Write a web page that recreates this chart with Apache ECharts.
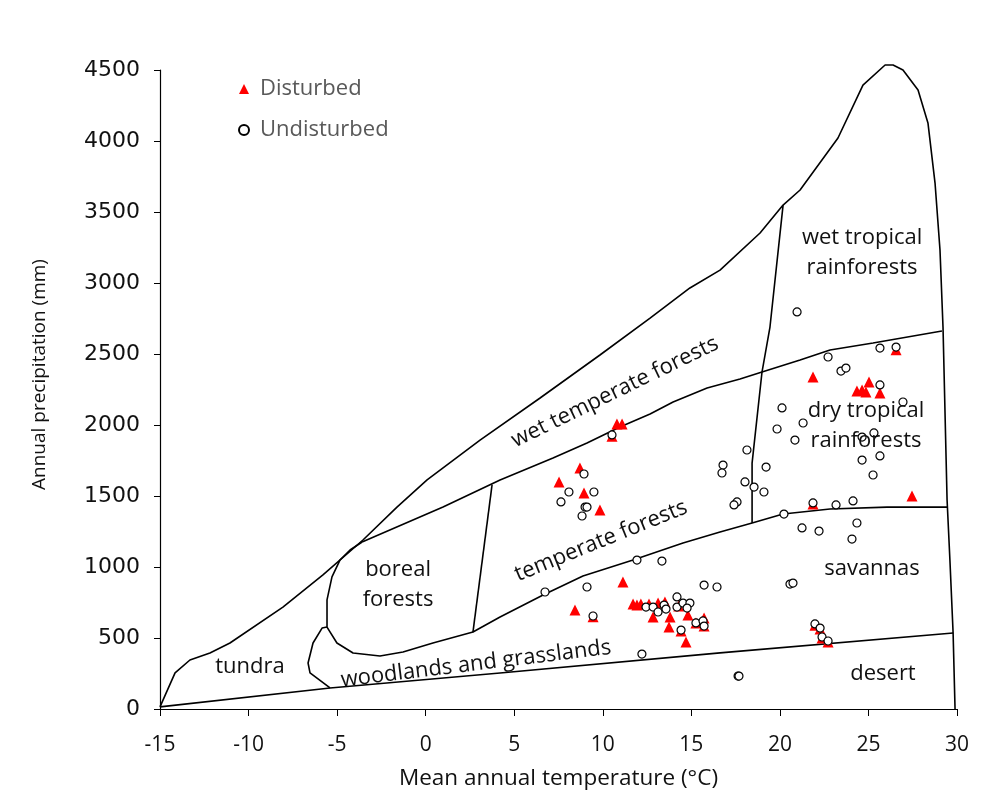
<!DOCTYPE html>
<html>
<head>
<meta charset="utf-8">
<title>Whittaker biomes – disturbed and undisturbed sites</title>
<script src="https://cdn.jsdelivr.net/npm/echarts@6/dist/echarts.min.js"></script>
<style>
  html, body { margin: 0; padding: 0; background: #ffffff; }
  #chart { width: 1004px; height: 810px; }
</style>
</head>
<body>
<div id="chart"></div>
<script>
// Axis ticks
const temperatureTicks = [-15, -10, -5, 0, 5, 10, 15, 20, 25, 30];
const precipitationTicks = [0, 500, 1000, 1500, 2000, 2500, 3000, 3500, 4000, 4500];

// Site climates: [mean annual temperature (°C), annual precipitation (mm)]
const disturbed = [
  [10.80, 2007], [11.09, 2007], [10.52, 1920],
  [8.71, 1697], [7.53, 1599], [8.94, 1521], [9.84, 1401],
  [11.14, 894], [8.43, 697], [9.45, 650],
  [11.71, 739], [11.93, 732], [12.15, 739], [12.61, 739], [12.84, 648],
  [13.12, 746], [13.51, 753], [13.80, 648], [13.74, 577], [14.29, 725],
  [14.81, 662], [15.26, 606], [15.72, 641], [15.72, 584], [14.70, 472], [14.42, 550],
  [21.87, 2338], [24.35, 2239], [24.64, 2246], [24.86, 2232], [25.03, 2303],
  [25.65, 2225], [26.56, 2530], [27.46, 1500], [21.87, 1444],
  [21.98, 590], [22.27, 563], [22.38, 500], [22.72, 472]
];

const undisturbed = [
  [10.52, 1930], [8.94, 1655], [8.09, 1528], [9.50, 1528], [7.64, 1458],
  [9.00, 1422], [9.11, 1422], [8.83, 1359],
  [16.79, 1718], [16.73, 1662], [17.58, 1458], [17.41, 1437],
  [6.74, 824], [9.11, 859], [11.93, 1049], [13.34, 1042], [9.45, 655],
  [15.72, 873], [16.45, 859], [12.21, 387], [14.42, 556],
  [12.44, 718], [12.84, 718], [13.12, 683], [13.46, 732], [13.57, 704],
  [14.19, 789], [14.19, 718], [14.53, 746], [14.92, 746], [14.76, 711],
  [15.26, 606], [15.66, 620], [15.72, 584],
  [20.97, 2796], [25.65, 2542], [26.56, 2549], [22.72, 2479], [23.45, 2380],
  [23.73, 2401], [25.65, 2282], [26.95, 2162], [20.12, 2120], [21.31, 2014],
  [19.84, 1972], [20.85, 1894], [24.64, 1915], [25.31, 1944], [25.65, 1782],
  [24.64, 1753], [25.26, 1648], [18.14, 1824], [19.22, 1704], [18.03, 1599],
  [18.54, 1563], [19.10, 1528], [21.87, 1451], [23.17, 1437], [24.13, 1465],
  [20.23, 1373], [21.25, 1275], [22.21, 1253], [24.35, 1310], [24.07, 1197],
  [20.57, 880], [20.74, 887], [21.98, 599], [22.27, 570], [22.38, 507],
  [22.72, 479], [17.64, 232], [17.69, 232]
];

// Biome boundaries (Whittaker diagram), same units as the sites
const outerBoundary = [
  [-15, 15], [-14.15, 254], [-13.31, 345], [-12.18, 394], [-11.05, 465],
  [-8.06, 718], [-5.80, 944], [-3.54, 1190], [-1.62, 1422], [0.08, 1613],
  [3.07, 1894], [6.46, 2190], [9.84, 2493], [12.67, 2753], [14.92, 2965],
  [16.62, 3091], [18.88, 3352], [20.18, 3549], [21.14, 3655], [23.28, 4021],
  [24.69, 4394], [25.94, 4535], [26.39, 4535], [26.95, 4500], [27.80, 4359],
  [28.36, 4127], [28.76, 3704], [29.04, 3232], [29.21, 2690], [29.44, 1472],
  [29.60, 1049], [29.78, 535], [29.89, 0]
];
const desertEdge = [
  [-15, 15], [-5.40, 148], [4.20, 254], [16.62, 395], [29.78, 535]
];
const tundraEdge = [
  [-5.40, 148], [-6.53, 254], [-6.64, 324], [-6.36, 465], [-5.85, 570], [-5.57, 577]
];
const borealAndTemperateLower = [
  [-3.59, 1176], [-4.27, 1120], [-4.84, 1049], [-5.29, 930], [-5.57, 768],
  [-5.57, 577], [-5.01, 465], [-4.10, 394], [-2.58, 373], [-1.28, 401],
  [0.41, 465], [2.67, 542], [4.20, 648], [6.63, 803], [8.88, 937],
  [11.71, 1049], [14.53, 1169], [16.62, 1246], [18.43, 1310], [20.18, 1373],
  [22.83, 1408], [26.05, 1422], [29.44, 1422]
];
const temperateUpper = [
  [-3.59, 1176], [0.98, 1422], [4.20, 1613], [7.19, 1768], [9.11, 1873],
  [10.97, 1986], [12.67, 2077], [13.97, 2162], [15.89, 2261], [17.75, 2324],
  [18.99, 2373], [21.14, 2458], [22.83, 2528], [25.26, 2577], [29.15, 2662]
];
const borealEast = [[3.75, 1580], [2.67, 542]];
const tropicalWest = [
  [20.18, 3549], [19.44, 2690], [18.99, 2373], [18.43, 1732], [18.43, 1310]
];

// Biome names, anchored in data space
const biomeNames = [
  { name: 'tundra', t: -9.92, p: 296, angle: 0 },
  { name: 'woodlands and grasslands', t: 2.84, p: 317, angle: 7 },
  { name: 'boreal\nforests', t: -1.56, p: 873, angle: 0 },
  { name: 'temperate forests', t: 9.90, p: 1183, angle: 22 },
  { name: 'wet temperate forests', t: 10.69, p: 2232, angle: 26 },
  { name: 'wet tropical\nrainforests', t: 24.64, p: 3211, angle: 0 },
  { name: 'dry tropical\nrainforests', t: 24.86, p: 1993, angle: 0 },
  { name: 'savannas', t: 25.20, p: 986, angle: 0 },
  { name: 'desert', t: 25.82, p: 246, angle: 0 }
];

const textFont = '"Open Sans", "Noto Sans", sans-serif';

function boundary(points) {
  return {
    type: 'line',
    data: points,
    symbol: 'none',
    clip: false,
    silent: true,
    z: 2,
    lineStyle: { color: '#000000', width: 1.6 }
  };
}

const chart = echarts.init(document.getElementById('chart'), null, { renderer: 'canvas' });

chart.setOption({
  backgroundColor: '#ffffff',
  animation: false,
  grid: { left: 160, right: 47, top: 70, bottom: 101, containLabel: false },
  legend: {
    data: ['Disturbed', 'Undisturbed'],
    orient: 'vertical',
    left: 233,
    top: 73,
    itemGap: 19,
    itemWidth: 10,
    itemHeight: 10,
    textStyle: { fontFamily: textFont, fontSize: 22, color: '#595959', padding: [0, 0, 0, 6] }
  },
  xAxis: {
    type: 'value',
    min: temperatureTicks[0],
    max: temperatureTicks[temperatureTicks.length - 1],
    interval: temperatureTicks[1] - temperatureTicks[0],
    name: 'Mean annual temperature (°C)',
    nameLocation: 'middle',
    nameGap: 58,
    nameTextStyle: { fontFamily: textFont, fontSize: 22.5, color: '#111111' },
    axisLine: { onZero: false, lineStyle: { color: '#000000', width: 1.2 } },
    axisTick: { show: true, length: 7, lineStyle: { color: '#000000' } },
    axisLabel: { margin: 26, fontFamily: textFont, fontSize: 21, color: '#111111' },
    splitLine: { show: false }
  },
  yAxis: {
    type: 'value',
    min: precipitationTicks[0],
    max: precipitationTicks[precipitationTicks.length - 1],
    interval: precipitationTicks[1] - precipitationTicks[0],
    name: 'Annual precipitation (mm)',
    nameLocation: 'middle',
    nameGap: 111,
    nameTextStyle: { fontFamily: textFont, fontSize: 19, color: '#111111', padding: [0, 0, 0, 30] },
    axisLine: { show: true, onZero: false, lineStyle: { color: '#000000', width: 1.2 } },
    axisTick: { show: true, length: 6, lineStyle: { color: '#000000' } },
    axisLabel: {
      margin: 20,
      fontFamily: '"DejaVu Sans", sans-serif',
      fontSize: 22,
      color: '#111111',
      formatter: (v) => String(v)
    },
    splitLine: { show: false }
  },
  series: [
    boundary(outerBoundary),
    boundary(desertEdge),
    boundary(tundraEdge),
    boundary(borealAndTemperateLower),
    boundary(temperateUpper),
    boundary(borealEast),
    boundary(tropicalWest),
    {
      name: 'Disturbed',
      type: 'scatter',
      symbol: 'triangle',
      symbolSize: 11,
      z: 3,
      itemStyle: { color: '#ff0000', opacity: 1 },
      data: disturbed
    },
    {
      name: 'Undisturbed',
      type: 'scatter',
      symbol: 'circle',
      symbolSize: 8,
      z: 4,
      itemStyle: { color: '#ffffff', borderColor: '#000000', borderWidth: 1.2, opacity: 1 },
      data: undisturbed
    },
    {
      type: 'scatter',
      silent: true,
      symbolSize: 0,
      z: 5,
      itemStyle: { opacity: 1 },
      label: {
        show: true,
        position: 'inside',
        fontFamily: textFont,
        fontSize: 22,
        lineHeight: 30,
        color: '#111111',
        align: 'center',
        verticalAlign: 'middle',
        formatter: (d) => d.name
      },
      data: biomeNames.map((b) => ({
        name: b.name,
        value: [b.t, b.p],
        label: { rotate: b.angle }
      }))
    }
  ]
});
</script>
</body>
</html>
